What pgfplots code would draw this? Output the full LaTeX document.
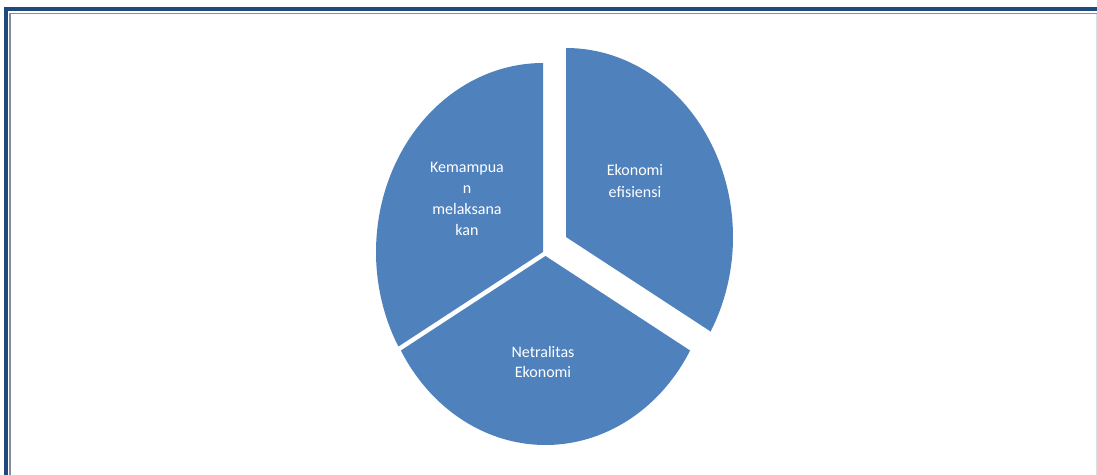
\documentclass[border=0pt]{standalone}
\usepackage{pgfplots}
\pgfplotsset{compat=1.18}
\usepackage{fontspec}
\setmainfont{Carlito}
\definecolor{pieblue}{RGB}{79,129,189}
\definecolor{frameblue}{RGB}{31,73,125}
\definecolor{framegray}{RGB}{130,142,160}
\definecolor{edgegray}{RGB}{222,222,222}
% Shares of the three slices (each one third = 120 degrees)
% Ekonomi efisiensi: 33.33, Netralitas Ekonomi: 33.33, Kemampuan melaksanakan: 33.33
\begin{document}
\begin{tikzpicture}
\begin{axis}[
  scale only axis,
  width=822.75pt, height=356.25pt,
  xmin=0, xmax=1097, ymin=0, ymax=475,
  y dir=reverse,
  hide axis,
  clip=true,
]
% frame
\draw[frameblue, line width=2.4pt, line cap=butt] (axis cs:6,475) -- (axis cs:6,9) -- (axis cs:1097,9);
\draw[framegray, line width=1.3pt, line cap=butt] (axis cs:9.8,475) -- (axis cs:9.8,13.6) -- (axis cs:1097,13.6);
\draw[edgegray, line width=0.9pt, line cap=butt] (axis cs:1096.3,13.6) -- (axis cs:1096.3,475);
% slices: Ekonomi efisiensi (90 -> -30), exploded
\addplot[fill=pieblue, draw=none, domain=-30:90, samples=90]
  ({566+167*cos(x)}, {237-189*sin(x)}) -- (axis cs:566,237) -- cycle;
% Netralitas Ekonomi (-30 -> -150)
\addplot[fill=pieblue, draw=none, domain=-150:-30, samples=90]
  ({545.5+167*cos(x)}, {256-189*sin(x)}) -- (axis cs:545.5,256) -- cycle;
% Kemampuan melaksanakan (-150 -> -270)
\addplot[fill=pieblue, draw=none, domain=90:210, samples=90]
  ({543+167*cos(x)}, {252-189*sin(x)}) -- (axis cs:543,252) -- cycle;
% labels
\node[text=white, align=center, font=\fontsize{12}{15.6}\selectfont] at (axis cs:467,199) {Kemampua\\n\\melaksana\\kan};
\node[text=white, align=center, font=\fontsize{12}{16.5}\selectfont] at (axis cs:635,181) {Ekonomi\\efisiensi};
\node[text=white, align=center, font=\fontsize{12}{15.5}\selectfont] at (axis cs:543,362) {Netralitas\\Ekonomi};
\end{axis}
\pgfresetboundingbox
\path[use as bounding box] (current axis.south west) rectangle (current axis.north east);
\end{tikzpicture}
\end{document}
